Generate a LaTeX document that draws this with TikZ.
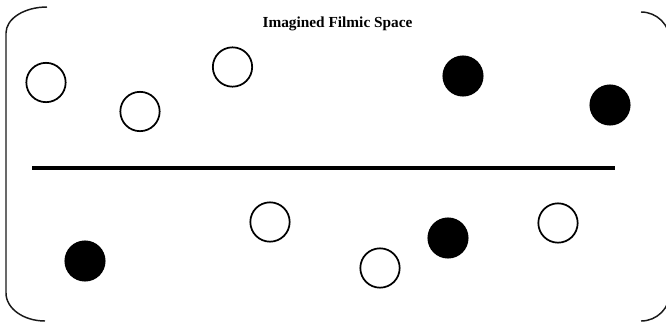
\documentclass[tikz,border=0pt]{standalone}
\usepackage{fontspec}
\setmainfont{Liberation Serif}
\usepackage{tikz}
\usetikzlibrary{
    positioning,
}

\begin{document}
\begin{tikzpicture}[
    x=0.75pt, y=-0.75pt,
    dot/.style      = {circle, draw, line width=1.3pt, minimum size=29.5pt,
                       inner sep=0pt},
    opendot/.style  = {dot, fill=white},
    fulldot/.style  = {dot, fill=black},
    divider/.style  = {line width=3pt},
    bracket/.style  = {line width=1.1pt, draw=black!90},
    heading/.style  = {font=\fontsize{11.5}{14}\selectfont\bfseries,
                       anchor=base, inner sep=0pt},
]
\clip (0,0) rectangle (666,322);

%% ── Frame (bracket pair) ─────────────────────────────────────────────────────
\draw[bracket] (47,7) .. controls (24.4,7) and (6,18.6) .. (6,33)
    -- (6,293) .. controls (6,308.5) and (23.5,321) .. (45,321);
\draw[bracket] (641,12) .. controls (657,12) and (670,25) .. (670,41)
    -- (670,292) .. controls (670,308) and (657,321) .. (641,321);

%% ── Title ────────────────────────────────────────────────────────────────────
\node[heading] (title) at (337.5,27) {Imagined Filmic Space};

%% ── Upper half ───────────────────────────────────────────────────────────────
\node[opendot] (up1) at (46,82.5)  {};
\node[opendot] (up2) at (140,111.5) {};
\node[opendot] (up3) at (232.5,67) {};
\node[fulldot] (up4) at (463,76)   {};
\node[fulldot] (up5) at (610,105)  {};

%% ── Divider ──────────────────────────────────────────────────────────────────
\coordinate (divL) at (32,168);
\coordinate (divR) at (615,168);
\draw[divider] (divL) -- (divR);

%% ── Lower half ───────────────────────────────────────────────────────────────
\node[fulldot] (lo1) at (85,261)   {};
\node[opendot] (lo2) at (270,222)  {};
\node[opendot] (lo3) at (380,268)  {};
\node[fulldot] (lo4) at (448,238)  {};
\node[opendot] (lo5) at (558,223)  {};

\end{tikzpicture}
\end{document}
